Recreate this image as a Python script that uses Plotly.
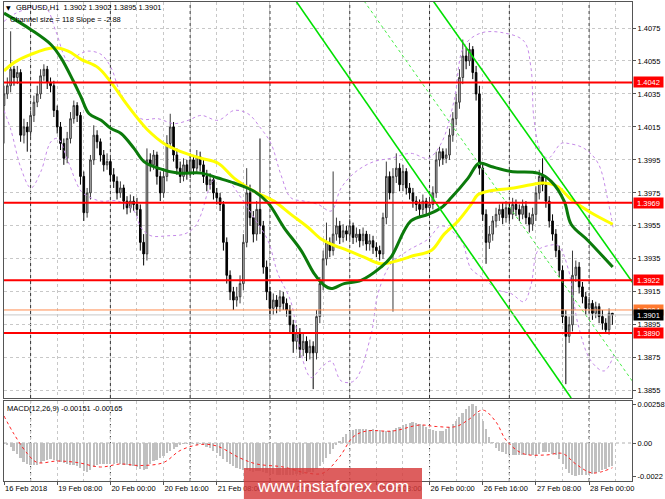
import plotly.graph_objects as go
from plotly.subplots import make_subplots

# ---------------- DATA (prices in pips: 4042 -> 1.4042) ----------------
bar_index = list(range(184))
opens = [4028,4035,4040,4050,4045,4048,4010,4015,4012,4022,
         4030,4035,4046,4050,4042,4040,4025,4015,4005,3996,
         4008,4020,4028,4022,3985,3963,3975,3995,4010,4006,
         3998,3992,3994,3986,3982,3975,3978,3970,3966,3970,
         3968,3965,3945,3938,3995,3992,3998,3985,3975,3985,
         4005,4015,3998,3990,3985,3992,3987,3995,3990,3997,
         3992,3985,3980,3983,3975,3972,3968,3945,3925,3915,
         3910,3912,3920,3945,3975,3960,3950,3965,3955,3930,
         3915,3905,3910,3906,3912,3908,3904,3895,3885,3890,
         3880,3885,3878,3882,3878,3900,3920,3935,3945,3940,
         3950,3955,3948,3952,3950,3955,3948,3950,3946,3950,
         3944,3946,3942,3940,3938,3960,3985,3975,3985,3990,
         3980,3988,3978,3975,3970,3968,3965,3970,3966,3968,
         3975,3995,4000,3996,3998,4010,4020,4030,4045,4058,
         4055,4062,4048,4035,3990,3962,3945,3950,3958,3962,
         3965,3960,3966,3962,3968,3965,3962,3967,3960,3956,
         3962,3975,3985,3980,3970,3958,3950,3940,3928,3900,
         3888,3895,3925,3930,3918,3912,3905,3908,3902,3906,
         3900,3896,3892,3902]
highs = [4040,4045,4073,4052,4052,4050,4020,4018,4025,4034,
         4040,4050,4053,4052,4045,4043,4028,4018,4008,4012,
         4024,4031,4030,4024,3988,3978,3998,4016,4013,4008,
         4001,3999,3996,3990,3985,3982,3980,3973,3974,3973,
         3972,3968,3950,4002,3999,4001,4000,3988,3990,4010,
         4023,4018,4002,3994,3996,3995,3999,3998,4001,4000,
         3995,3989,3987,3985,3978,3975,3970,3948,3928,3918,
         3918,3925,3950,3990,3980,3964,3970,4008,3958,3934,
         3918,3914,3913,3916,3915,3911,3907,3898,3895,3893,
         3890,3888,3886,3885,3904,3924,3940,3957,3948,3988,
         3960,3958,3956,3955,3959,3957,3954,3953,3954,3952,
         3950,3949,3945,3943,3963,3994,3988,3990,3999,3993,
         3992,3990,3981,3978,3973,3971,3974,3972,3971,3979,
         4000,4003,4002,4002,4014,4024,4035,4050,4068,4063,
         4066,4064,4052,4040,3993,3965,3955,3961,3966,3968,
         3969,3970,3969,3972,3971,3968,3971,3970,3963,3966,
         3979,3989,3996,3984,3973,3962,3953,3943,3931,3904,
         3900,3940,3934,3933,3921,3915,3912,3910,3909,3908,
         3904,3899,3905,3902]
lows = [4005,4032,4036,4040,4041,4006,4005,4000,4009,4018,
        4027,4032,4043,4038,4036,4021,4011,4001,3992,3993,
        4005,4017,4018,3980,3958,3960,3971,3992,4002,3994,
        3988,3989,3982,3978,3971,3972,3965,3962,3963,3964,
        3961,3940,3931,3934,3988,3989,3980,3970,3972,3982,
        4002,3994,3986,3981,3982,3983,3984,3986,3987,3988,
        3981,3976,3977,3971,3968,3964,3940,3920,3910,3904,
        3906,3908,3916,3942,3955,3945,3946,3950,3926,3910,
        3900,3901,3902,3903,3904,3900,3890,3878,3880,3875,
        3876,3873,3874,3856,3874,3896,3916,3931,3936,3937,
        3946,3944,3945,3946,3947,3944,3945,3942,3943,3940,
        3940,3938,3936,3934,3935,3956,3971,3903,3981,3976,
        3976,3974,3971,3966,3964,3961,3962,3962,3963,3965,
        3972,3991,3992,3993,3995,4006,4016,4026,4041,4050,
        4052,4044,4031,3986,3958,3932,3941,3946,3954,3958,
        3956,3957,3958,3959,3961,3958,3959,3956,3951,3952,
        3958,3971,3976,3966,3954,3946,3936,3924,3896,3859,
        3884,3891,3921,3914,3908,3901,3902,3898,3899,3896,
        3892,3890,3889,3895]
closes = [4035,4040,4050,4045,4048,4010,4015,4012,4022,4030,
          4035,4046,4050,4042,4040,4025,4015,4005,3996,4008,
          4020,4028,4022,3985,3963,3975,3995,4010,4006,3998,
          3992,3994,3986,3982,3975,3978,3970,3966,3970,3968,
          3965,3945,3938,3995,3992,3998,3985,3975,3985,4005,
          4015,3998,3990,3985,3992,3987,3995,3990,3997,3992,
          3985,3980,3983,3975,3972,3968,3945,3925,3915,3910,
          3912,3920,3945,3975,3960,3950,3965,3955,3930,3915,
          3905,3910,3906,3912,3908,3904,3895,3885,3890,3880,
          3885,3878,3882,3878,3900,3920,3935,3945,3940,3950,
          3955,3948,3952,3950,3955,3948,3950,3946,3950,3944,
          3946,3942,3940,3938,3960,3985,3975,3985,3990,3980,
          3988,3978,3975,3970,3968,3965,3970,3966,3968,3975,
          3995,4000,3996,3998,4010,4020,4030,4045,4058,4055,
          4062,4048,4035,3990,3962,3945,3950,3958,3962,3965,
          3960,3966,3962,3968,3965,3962,3967,3960,3956,3962,
          3975,3985,3980,3970,3958,3950,3940,3928,3900,3888,
          3895,3925,3930,3918,3912,3905,3908,3902,3906,3900,
          3896,3892,3902,3901]

# moving averages (bar index, pips)
ma_green_x = [0,8.1,14.1,17.1,20.8,23.2,25.6,29.2,32.2,35.2,39.1,42.1,46.3,52.3,59.3,64.4,69.2,75.2,79.4,
              84.2,89.4,93.3,96.3,98.4,102.3,107.4,113.4,116.4,122.4,127.6,131.5,134.5,139.6,142.9,146.5,
              152.5,160.6,164.6,168.5,170.6,175.7,183.1]
ma_green_y = [4084,4074,4065,4057,4043,4033,4023,4019,4014,4011,4002,3994,3990,3987,3987,3984,3981,3976,3969,
              3954,3940,3926,3919,3917,3920,3922,3930,3936,3958,3962,3966,3972,3984,3993,3991,
              3988,3987,3982,3970,3956,3946,3930]
ma_yellow_x = [0,3,8.1,15,19.3,23.2,28.3,32.2,36.1,40.3,43.3,48.1,53.2,59.3,64.4,69.2,75.2,81.2,86.3,91.5,
               95.4,98.4,103.5,108.3,113.4,118.5,123.3,128.5,132.4,136.6,140.5,142.6,145.6,153.4,158.5,
               162.5,166.4,170.6,176.6,183.1]
ma_yellow_y = [4049,4054,4059,4063,4061,4056,4051,4042,4031,4020,4013,4005,4000,3996,3993,3984,3976,3970,3962,3954,
               3947,3944,3940,3936,3932,3934,3937,3940,3950,3958,3968,3974,3976,3978,3980,
               3981,3979,3971,3963,3956]
band_up_x = [0,3.6,8.1,12.6,15.6,19.3,22.6,25.3,29.2,32.2,35.2,41.2,46.3,51.1,55.4,59.3,64.4,69.2,73.4,77.3,
             80.3,83.3,86.3,90.3,94.5,98.4,101.4,105.9,111.3,116.4,122.4,127.6,131.5,135.4,138.4,143.5,
             150.4,156.4,158.5,159.4,161.5,163.7,167.6,169.7,174.5,178.7,181.7,183.2]
band_up_y = [4079,4084,4087,4087,4073,4055,4059,4061,4059,4051,4035,4020,4020,4017,4019,4022,4019,4025,4023,4014,
             4005,3986,3972,3970,3968,3964,3978,3988,3994,3996,3999,3996,4005,4031,4064,4072,
             4072,4067,4051,4020,4000,3996,4005,4005,4002,3993,3970,3954]
band_dn_x = [0,2.1,5.1,8.1,11.1,14.1,16.2,19.3,23.2,26.2,29.2,34.3,39.1,41.2,44.2,49.3,54.2,57.2,59.3,61.4,
             63.2,67.4,71.3,75.2,79.4,82.4,86.3,89.4,92.4,95.4,98.4,101.4,105.3,110.4,112.5,116.4,121.5,
             127.6,131.5,137.5,140.5,144.4,148.6,152.5,156.4,158.5,160.6,163.7,166.7,169.7,172.7,176.6,
             180.5,183.5]
band_dn_y = [4025,4013,3990,3978,3988,4006,4008,3994,3976,3972,3970,3970,3964,3954,3949,3949,3950,3954,3962,3976,
             3983,3982,3972,3960,3946,3926,3909,3877,3863,3869,3873,3861,3861,3889,3914,3932,3940,
             3947,3955,3946,3929,3923,3916,3914,3909,3919,3940,3943,3943,3929,3895,3873,
             3867,3877]

# regression channel (bar index, pips)
chan_lower_x = [87.8, 170.6]
chan_lower_y = [4091.4, 3850.6]
chan_upper_x = [129.1, 189.2]
chan_upper_y = [4091.4, 3920.4]
chan_mid_x = [108.3, 189.2]
chan_mid_y = [4091.4, 3860.3]

red_levels = [1.4042, 1.3969, 1.3922, 1.3890]
orange_level = 1.3904
bid_level = 1.3901

price_ticks = [1.4075, 1.4055, 1.4035, 1.4015, 1.3995, 1.3975, 1.3955, 1.3935, 1.3915, 1.3895, 1.3875, 1.3855]

# MACD (units of 1e-5)
macd_hist = [-5,-15,-25,-50,-75,-100,-125,-140,-145,-148,
             -145,-130,-120,-110,-108,-112,-118,-125,-132,-140,
             -145,-148,-150,-165,-185,-190,-180,-160,-145,-138,
             -140,-142,-140,-138,-135,-140,-145,-148,-150,-152,
             -160,-175,-182,-170,-140,-120,-110,-100,-85,-65,
             -50,-40,-25,-12,-5,-3,-2,-5,-8,-6,
             -15,-25,-35,-50,-65,-85,-105,-125,-140,-155,
             -165,-175,-182,-178,-185,-190,-188,-185,-195,-200,
             -205,-208,-210,-212,-210,-212,-215,-212,-208,-210,
             -205,-200,-195,-190,-170,-150,-125,-100,-75,-40,
             -10,10,40,60,75,85,92,96,95,92,
             90,92,90,85,82,80,82,90,100,110,
             122,130,135,138,135,130,120,105,95,85,
             80,78,82,95,110,130,150,175,200,225,
             245,258,250,200,150,95,40,5,-30,-50,
             -60,-70,-75,-78,-80,-82,-80,-78,-80,-82,
             -78,-70,-62,-60,-62,-70,-80,-105,-140,-175,
             -200,-215,-220,-215,-212,-210,-212,-208,-200,-190,
             -180,-172,-162,-151]
signal_x = [0,3,7,10,16,22,29,35,41,48,53,59,64,71,76,84,91,96,101,105,109,117,125,130,136,140,144,148,151,156,
            163,168,172,177,183]
signal_y = [180,60,-70,-130,-120,-130,-160,-140,-150,-130,-50,-10,-20,-100,-140,-160,-200,-200,-90,40,80,80,120,
            110,110,160,220,140,20,-70,-80,-70,-140,-200,-165]
macd_ticks = [0.00258, 0.0, -0.0022]
macd_ticktext = ["0.00258", "0.00", "-0.0022"]

x_label_pos = [0,16,32,48,64,80,96,112,128,144,160,176]
x_labels = ["16 Feb 2018","19 Feb 08:00","20 Feb 00:00","20 Feb 16:00","21 Feb 08:00","22 Feb 00:00",
            "22 Feb 16:00","23 Feb 08:00","26 Feb 00:00","26 Feb 16:00","27 Feb 08:00","28 Feb 00:00"]
day_lines = [8,32,56,80,104,128,152,176]

# ---------------- FIGURE ----------------
def p(vals):
    return [1 + v / 10000 for v in vals]

FONT = "Liberation Sans, Arial, sans-serif"
fig = make_subplots(rows=2, cols=1, shared_xaxes=True)

band_style = dict(color="#c58ae8", width=1, dash="dot")
fig.add_trace(go.Scatter(x=band_up_x, y=p(band_up_y), mode="lines", line=dict(shape="spline", **band_style)), 1, 1)
fig.add_trace(go.Scatter(x=band_dn_x, y=p(band_dn_y), mode="lines", line=dict(shape="spline", **band_style)), 1, 1)

fig.add_trace(go.Candlestick(
    x=bar_index, open=p(opens), high=p(highs), low=p(lows), close=p(closes),
    increasing=dict(line=dict(color="#3a3a3a", width=1), fillcolor="#c8c8c8"),
    decreasing=dict(line=dict(color="#000000", width=1), fillcolor="#000000"),
    whiskerwidth=0), 1, 1)

fig.add_trace(go.Scatter(x=ma_yellow_x, y=p(ma_yellow_y), mode="lines",
                         line=dict(color="#ffff00", width=3, shape="spline")), 1, 1)
fig.add_trace(go.Scatter(x=ma_green_x, y=p(ma_green_y), mode="lines",
                         line=dict(color="#0b7a0b", width=3, shape="spline")), 1, 1)

fig.add_trace(go.Scatter(x=chan_lower_x, y=p(chan_lower_y), mode="lines", line=dict(color="#00e000", width=1.6)), 1, 1)
fig.add_trace(go.Scatter(x=chan_upper_x, y=p(chan_upper_y), mode="lines", line=dict(color="#00e000", width=1.6)), 1, 1)
fig.add_trace(go.Scatter(x=chan_mid_x, y=p(chan_mid_y), mode="lines", line=dict(color="#44ee44", width=1, dash="dot")), 1, 1)

fig.add_trace(go.Bar(x=bar_index, y=[v / 100000 for v in macd_hist], marker=dict(color="#c0c0c0", line=dict(width=0)),
                     width=0.6), 2, 1)
fig.add_trace(go.Scatter(x=signal_x, y=[v / 100000 for v in signal_y], mode="lines",
                         line=dict(color="#ff2020", width=1, dash="dot", shape="spline")), 2, 1)

shapes = []
for lv in red_levels:
    shapes.append(dict(type="line", xref="x domain", yref="y", x0=0, x1=1, y0=lv, y1=lv,
                       line=dict(color="#ff0000", width=2), layer="above"))
shapes.append(dict(type="line", xref="x domain", yref="y", x0=0, x1=1, y0=orange_level, y1=orange_level,
                   line=dict(color="#ff8c50", width=1), layer="above"))
shapes.append(dict(type="line", xref="x domain", yref="y", x0=0, x1=1, y0=bid_level, y1=bid_level,
                   line=dict(color="#c8c8c8", width=1), layer="above"))
for d in day_lines:
    shapes.append(dict(type="line", xref="x", yref="y domain", x0=d, x1=d, y0=0, y1=1,
                       line=dict(color="#303030", width=1, dash="3px,3px"), layer="below"))
    shapes.append(dict(type="line", xref="x2", yref="y2 domain", x0=d, x1=d, y0=0, y1=1,
                       line=dict(color="#303030", width=1, dash="3px,3px"), layer="below"))
shapes.append(dict(type="line", xref="x2 domain", yref="y2", x0=0, x1=1, y0=0, y1=0,
                   line=dict(color="#b0b0b0", width=1, dash="3px,3px"), layer="below"))
# watermark box
shapes.append(dict(type="rect", xref="paper", yref="paper", x0=0.382, x1=0.6656, y0=-0.04, y1=0.0271,
                   fillcolor="rgba(214,58,58,0.82)", line=dict(width=0), layer="above"))

ann = []
def label_box(val, bg, text):
    return dict(xref="paper", yref="y", x=1, y=val, xanchor="left", yanchor="middle", xshift=1,
                text=text, showarrow=False, bgcolor=bg, width=29, height=10, borderpad=0,
                font=dict(family=FONT, size=7.5, color="white"))
for lv in red_levels:
    ann.append(label_box(lv, "#ff0000", f"{lv:.4f}"))
ann.append(label_box(orange_level, "#ff7a30", f"{orange_level:.4f}"))
ann.append(label_box(bid_level, "#000000", f"{bid_level:.4f}"))

ann.append(dict(xref="paper", yref="paper", x=0.0075, y=0.9875, xanchor="center", yanchor="middle",
                text="▼", showarrow=False, font=dict(family="DejaVu Sans", size=6, color="black")))
ann.append(dict(xref="paper", yref="paper", x=0.016, y=0.9875, xanchor="left", yanchor="middle",
                text="GBPUSD,H1  1.3902 1.3902 1.3895 1.3901", showarrow=False,
                font=dict(family=FONT, size=7.5, color="black")))
ann.append(dict(xref="paper", yref="paper", x=0.006, y=0.9645, xanchor="left", yanchor="middle",
                text="Channel size = 118 Slope = -2.88", showarrow=False,
                font=dict(family=FONT, size=7.5, color="black")))
ann.append(dict(xref="paper", yref="paper", x=0.002, y=0.1524, xanchor="left", yanchor="middle",
                text="MACD(12,26,9) -0.00151 -0.00165", showarrow=False,
                font=dict(family=FONT, size=7.5, color="black")))
ann.append(dict(xref="paper", yref="paper", x=0.5238, y=-0.012, xanchor="center", yanchor="middle",
                text="www.instaforex.com", showarrow=False,
                font=dict(family=FONT, size=17, color="white")))

XR = [0, 188.9]
axis_common = dict(showline=True, mirror=True, linecolor="#555555", linewidth=1, zeroline=False,
                   automargin=False)
fig.update_layout(
    template="none", width=665, height=499,
    margin=dict(l=4, r=33, t=2, b=18),
    paper_bgcolor="white", plot_bgcolor="white",
    showlegend=False, bargap=0, shapes=shapes, annotations=ann,
    font=dict(family=FONT, size=7.5, color="black"),
    xaxis=dict(range=XR, tickmode="array", tickvals=x_label_pos, showticklabels=False,
               ticks="", showgrid=True, gridcolor="#c8c8c8", griddash="3px,3px", gridwidth=1,
               minor=dict(tickmode="linear", tick0=0, dtick=8, showgrid=True, gridcolor="#c8c8c8",
                          griddash="3px,3px", gridwidth=1),
               rangeslider=dict(visible=False), **axis_common),
    xaxis2=dict(range=XR, tickmode="array", tickvals=x_label_pos, ticktext=x_labels, tickangle=0,
                ticklabelposition="outside right", ticks="outside", ticklen=3, tickcolor="#555555",
                tickfont=dict(family=FONT, size=7.5, color="black"),
                showgrid=True, gridcolor="#c8c8c8", griddash="3px,3px", gridwidth=1,
                minor=dict(tickmode="linear", tick0=0, dtick=8, showgrid=True, gridcolor="#c8c8c8",
                           griddash="3px,3px", gridwidth=1),
                rangeslider=dict(visible=False), **axis_common),
    yaxis=dict(domain=[0.1733, 1], side="right", range=[1.385062, 1.409077], tickmode="array",
               tickvals=price_ticks, ticktext=[f"{v:.4f}" for v in price_ticks],
               ticks="outside", ticklen=3, tickcolor="#555555",
               tickfont=dict(family=FONT, size=7.5, color="black"),
               showgrid=True, gridcolor="#c8c8c8", griddash="3px,3px", gridwidth=1, **axis_common),
    yaxis2=dict(domain=[0, 0.167], side="right", range=[-0.002533, 0.0028], tickmode="array",
                tickvals=macd_ticks, ticktext=macd_ticktext, ticks="outside", ticklen=3, tickcolor="#555555",
                tickfont=dict(family=FONT, size=7.5, color="black"), showgrid=False, **axis_common),
)

fig.write_html("out.html", config={"displayModeBar": False},
               post_script="document.body.style.margin='0px';document.body.style.padding='0px';")
